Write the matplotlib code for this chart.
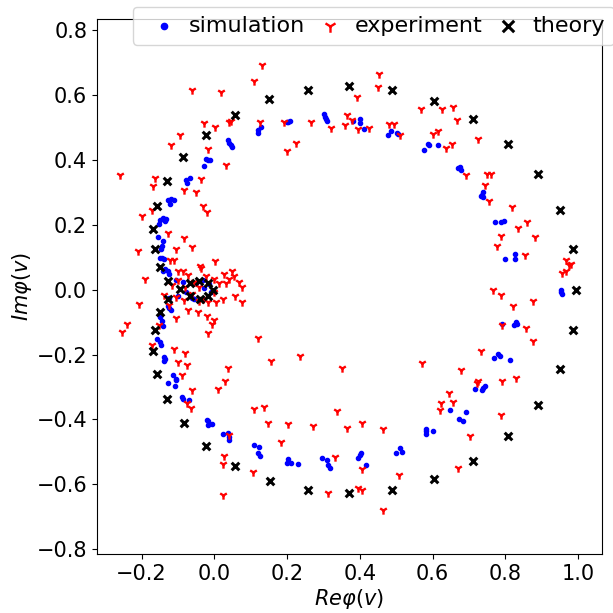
import matplotlib
matplotlib.use("Agg")
import matplotlib.pyplot as plt
import numpy as np

# simulation (blue dots)
sim_re = [
    0.119, 0.121, 0.129, 0.037, 0.041, 0.046, 0.050, -0.023, -0.016, -0.011, -0.027,
    -0.078, -0.075, -0.066, -0.126, -0.118, -0.111, -0.122, -0.148, -0.140, -0.133,
    -0.151, -0.135, -0.154, -0.144, -0.140, -0.146, -0.148, -0.144, -0.137, -0.135,
    -0.128, -0.124, 0.200, 0.204, 0.209, 0.302, 0.304, 0.307, 0.311, 0.381, 0.401,
    0.401, 0.411, 0.477, 0.485, 0.503, 0.506, 0.576, 0.587, 0.589, 0.616, 0.671,
    0.676, 0.678, 0.735, 0.739, 0.740, 0.734, 0.772, 0.789, 0.796, 0.799, 0.826,
    0.826, 0.953, 0.954, 0.955,
    0.792, 0.824, 0.830, 0.832, 0.770, 0.781, 0.785, 0.812, 0.718, 0.737, 0.739,
    0.744, 0.649, 0.673, 0.683, 0.692, 0.582, 0.582, 0.582, 0.600, 0.500, 0.511,
    0.517, 0.396, 0.401, 0.403, 0.418, 0.295, 0.310, 0.313, 0.317, 0.203, 0.201,
    0.212, 0.229, 0.109, 0.123, 0.119, 0.126, 0.024, 0.037, 0.041, 0.041, -0.019,
    -0.016, -0.018, -0.005, -0.088, -0.087, -0.069, -0.126, -0.107, -0.105, -0.113,
    -0.105, -0.137, -0.135, -0.139, -0.157, -0.149, -0.146, -0.149, -0.144, -0.142,
    -0.124, -0.119, -0.126,
    -0.140, -0.087, -0.078, -0.014, -0.009, -0.027, -0.050, -0.060, -0.124, -0.105,
    -0.100, -0.030, -0.030, -0.055,
]
sim_im = [
    0.491, 0.484, 0.502, 0.462, 0.453, 0.447, 0.441, 0.402, 0.400, 0.400, 0.381,
    0.339, 0.328, 0.345, 0.277, 0.278, 0.276, 0.265, 0.216, 0.220, 0.218,
    0.203, 0.211, 0.162, 0.136, 0.149, 0.126, 0.098, 0.097, 0.095, 0.065,
    0.059, 0.049, 0.516, 0.518, 0.519, 0.541, 0.531, 0.525, 0.519, 0.521, 0.525,
    0.513, 0.494, 0.477, 0.490, 0.482, 0.479, 0.431, 0.449, 0.447, 0.445, 0.374,
    0.377, 0.370, 0.293, 0.300, 0.287, 0.290, 0.209, 0.208, 0.212, 0.093, 0.109,
    0.095, 0.000, -0.006, -0.012,
    -0.107, -0.108, -0.101, -0.106, -0.210, -0.199, -0.204, -0.216, -0.306, -0.310, -0.302,
    -0.298, -0.372, -0.399, -0.406, -0.378, -0.430, -0.437, -0.445, -0.435, -0.504, -0.487,
    -0.501, -0.520, -0.510, -0.503, -0.541, -0.518, -0.525, -0.541, -0.550, -0.522, -0.534,
    -0.533, -0.537, -0.478, -0.484, -0.502, -0.514, -0.444, -0.443, -0.454, -0.464, -0.402,
    -0.404, -0.418, -0.413, -0.330, -0.338, -0.341, -0.287, -0.298, -0.279, -0.264,
    -0.274, -0.207, -0.215, -0.220, -0.153, -0.160, -0.169, -0.084, -0.097, -0.113,
    -0.058, -0.062, -0.051,
    0.057, 0.025, -0.006, 0.016, -0.006, 0.004, 0.019, -0.025, -0.027, 0.030,
    -0.020, 0.030, -0.030, -0.030,
]

# experiment (red tri markers)
exp_re = [
    0.131, 0.110, -0.061, 0.018, -0.027, 0.003, 0.046, 0.041, 0.126, 0.193, 0.267,
    0.322, 0.358, 0.366, 0.199, 0.224, -0.093, -0.118, -0.016, 0.032, -0.259, -0.163,
    -0.168, -0.083, -0.050, -0.036, -0.030, -0.021, -0.170, -0.199,
    0.453, 0.451, 0.393, 0.378, 0.396, 0.426, 0.481, 0.495, 0.511, 0.569, 0.627,
    0.657, 0.668, 0.600, 0.615, 0.637, 0.653, 0.724, 0.691, 0.751, 0.760, 0.744,
    0.754, 0.818, 0.859, 0.834, 0.789, 0.881,
    0.777, 0.854, 0.968, 0.975, 0.980, 0.968, 0.957, 0.767, 0.788, 0.876, 0.822,
    0.792, 0.856, 0.877, 0.733, 0.350, 0.572, 0.679, 0.726, 0.723, 0.792, 0.830,
    0.644, 0.623, 0.655, 0.621, 0.788, 0.336, 0.407, 0.364, 0.465, 0.702, 0.332,
    0.406, 0.509, 0.670, 0.394, 0.405, 0.465,
    0.119, 0.155, 0.236, 0.110, 0.138, -0.060, 0.009, 0.029, -0.075, -0.064, 0.147,
    0.204, 0.272, 0.041, 0.184, 0.027, 0.023, 0.106, 0.312, 0.023,
    -0.126, -0.084, -0.061, -0.104, -0.209, -0.121, -0.110, 0.003, -0.037, -0.190,
    -0.208, -0.240, -0.254, -0.104, -0.153, -0.021, -0.002, -0.005, -0.016, -0.171,
    -0.110, -0.080, -0.101, -0.075, 0.037, -0.089,
    0.027, 0.049, 0.055, 0.041, 0.069, 0.076, 0.058, 0.076, 0.023, 0.005, -0.018,
    -0.046, -0.073, -0.124, -0.137, -0.101, -0.087, -0.071, -0.038, -0.023, 0.000,
    0.014, 0.032, -0.100, -0.080, -0.055, -0.041, -0.115, -0.105, -0.082, -0.060,
    -0.032, 0.000, -0.041,
]
exp_im = [
    0.693, 0.644, 0.616, 0.608, 0.513, 0.502, 0.521, 0.516, 0.518, 0.516, 0.516,
    0.497, 0.507, 0.538, 0.426, 0.451, 0.476, 0.445, 0.432, 0.385, 0.352, 0.345,
    0.318, 0.306, 0.300, 0.341, 0.259, 0.239, 0.244, 0.226,
    0.666, 0.626, 0.593, 0.524, 0.495, 0.498, 0.512, 0.512, 0.476, 0.556, 0.557,
    0.564, 0.523, 0.480, 0.488, 0.437, 0.449, 0.463, 0.353, 0.355, 0.355, 0.322,
    0.272, 0.256, 0.208, 0.191, 0.165, 0.162,
    0.134, 0.106, 0.090, 0.075, 0.080, 0.059, 0.050, -0.002, -0.015, -0.035, -0.050,
    -0.110, -0.118, -0.158, -0.190, -0.241, -0.226, -0.248, -0.281, -0.289, -0.281, -0.271,
    -0.318, -0.349, -0.346, -0.371, -0.386, -0.374, -0.410, -0.426, -0.428, -0.451, -0.517,
    -0.554, -0.572, -0.548, -0.612, -0.617, -0.679,
    -0.148, -0.221, -0.204, -0.367, -0.363, -0.310, -0.307, -0.281, -0.348, -0.366, -0.412,
    -0.415, -0.419, -0.449, -0.470, -0.512, -0.537, -0.563, -0.628, -0.633,
    0.175, 0.160, 0.131, 0.124, 0.119, 0.090, 0.090, 0.088, 0.068, 0.034,
    -0.045, -0.107, -0.130, -0.087, -0.110, -0.082, -0.095, -0.105, -0.133, -0.171,
    -0.182, -0.194, -0.223, -0.233, -0.242, -0.264,
    0.047, 0.059, 0.041, 0.034, 0.023, 0.008, -0.020, -0.038, -0.030, -0.038, -0.038,
    -0.069, -0.064, -0.048, -0.015, 0.059, 0.056, 0.044, 0.072, 0.041, 0.034,
    0.021, 0.019, 0.029, 0.008, 0.024, 0.008, 0.013, -0.023, -0.033, -0.012,
    -0.028, -0.007, -0.036,
]

# theory (black crosses)
theo_re = [
    0.995, 0.987, 0.950, 0.890, 0.808, 0.712, 0.604, 0.489, 0.371, 0.258, 0.151,
    0.058, -0.022, -0.085, -0.129, -0.157, -0.168, -0.164, -0.148, -0.126, -0.095,
    -0.068, -0.041, -0.018, -0.004, -0.017, -0.040, -0.067, -0.126, -0.148, -0.164,
    -0.168, -0.157, -0.130, -0.084, -0.023, 0.057, 0.152, 0.257, 0.371, 0.488,
    0.604, 0.712, 0.808, 0.889, 0.950, 0.987,
]
theo_im = [
    0.000, 0.124, 0.244, 0.355, 0.450, 0.527, 0.582, 0.616, 0.629, 0.616, 0.588,
    0.539, 0.478, 0.410, 0.336, 0.259, 0.187, 0.124, 0.069, 0.027, 0.001,
    0.020, 0.027, 0.020, 0.000, -0.020, -0.028, -0.020, -0.028, -0.070, -0.125,
    -0.189, -0.261, -0.336, -0.410, -0.481, -0.542, -0.589, -0.618, -0.628, -0.618,
    -0.583, -0.527, -0.450, -0.354, -0.244, -0.125,
]

fig = plt.figure(figsize=(6.13, 6.13), dpi=100)
ax = fig.add_axes([0.158, 0.096, 0.824, 0.873])

ax.scatter(sim_re, sim_im, marker=".", color="b", label="simulation")
ax.scatter(exp_re, exp_im, marker="1", color="r", linewidths=1.7, label="experiment")
ax.scatter(theo_re, theo_im, marker="x", color="k", s=30, linewidths=2.2, label="theory")

ax.set_xlim(-0.323, 1.066)
ax.set_ylim(-0.815, 0.834)
ax.set_xticks(np.arange(-0.2, 1.01, 0.2))
ax.set_yticks(np.arange(-0.8, 0.81, 0.2))
ax.tick_params(labelsize=15)
ax.set_xlabel(r"$Re\varphi(v)$", fontsize=15, labelpad=2)
ax.set_ylabel(r"$Im\varphi(v)$", fontsize=15, labelpad=2)

ax.legend(loc="upper left", bbox_to_anchor=(0.217, 0.989), bbox_transform=fig.transFigure,
          borderaxespad=0, ncol=3, fontsize=16, markerscale=1.5,
          handletextpad=0.12, columnspacing=0.12)

fig.savefig("out.png", dpi=100)
